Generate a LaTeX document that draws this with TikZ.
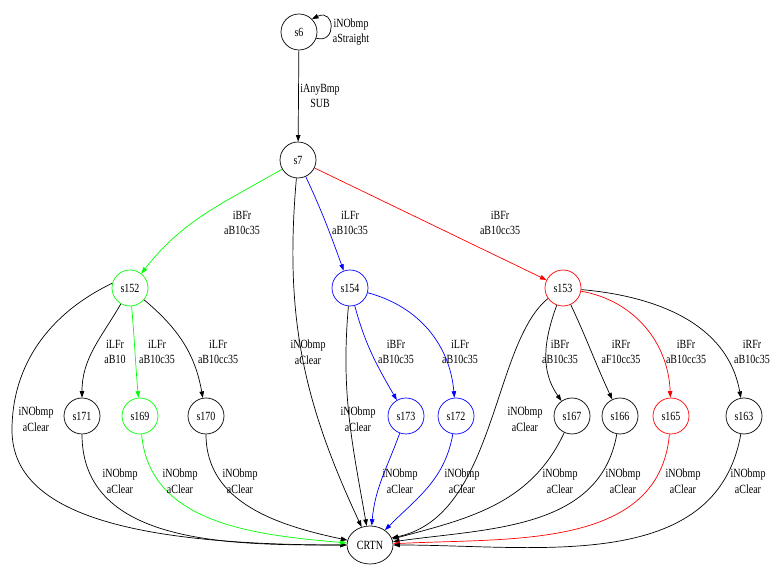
\documentclass[tikz,border=0pt]{standalone}
\usepackage{fontspec}
\newfontfamily\dotfont[FakeStretch=0.8]{Liberation Serif}
\usetikzlibrary{arrows.meta, shapes.geometric}
\definecolor{dotgreen}{RGB}{0,255,0}
\definecolor{dotblue}{RGB}{0,0,255}
\definecolor{dotred}{RGB}{255,0,0}

\begin{document}
\begin{tikzpicture}[x=1bp, y=1bp, line width=0.7bp,
    font=\dotfont\fontsize{12.5bp}{15.5bp}\selectfont,
    state/.style={circle, draw, inner sep=0pt, minimum size=36bp},
    lbl/.style={align=center, inner sep=0pt},
    tr/.style={-{Triangle[length=6.5bp,width=4.5bp]}}]
  \useasboundingbox (0,0) rectangle (777,576);

  % states
  \node[state] (s6) at (299,544) {s6};
  \node[state] (s7) at (298,416) {s7};
  \node[state, dotgreen] (s152) at (130,288) {\color{black}s152};
  \node[state, dotblue] (s154) at (350,288) {\color{black}s154};
  \node[state, dotred] (s153) at (563,288) {\color{black}s153};
  \node[state] (s171) at (82,160) {s171};
  \node[state, dotgreen] (s169) at (140,160) {\color{black}s169};
  \node[state] (s170) at (206,160) {s170};
  \node[state, dotblue] (s173) at (406,160) {\color{black}s173};
  \node[state, dotblue] (s172) at (456,160) {\color{black}s172};
  \node[state] (s167) at (572,160) {s167};
  \node[state] (s166) at (620,160) {s166};
  \node[state, dotred] (s165) at (671,160) {\color{black}s165};
  \node[state] (s163) at (744,160) {s163};
  \node[ellipse, draw, inner sep=0pt, minimum width=46bp, minimum height=38bp] (CRTN) at (370,31) {CRTN};

  % s6, s7
  \draw[tr] (s6.-20) .. controls (337,532) and (335,568) .. (s6.45);
  \node[lbl] (l6) at (351,544) {iNObmp\\aStraight};
  \draw[tr] (s6) -- (s7);
  \node[lbl] (l67) at (320,480) {iAnyBmp\\SUB};

  \draw[tr, dotgreen] (s7) to[out=-150, in=52] (s152);
  \node[lbl] at (242,353) {iBFr\\aB10c35};
  \draw[tr, dotblue] (s7) to[out=-65, in=110] (s154);
  \node[lbl] at (350,353) {iLFr\\aB10c35};
  \draw[tr, dotred] (s7) -- (s153);
  \node[lbl] at (500,353) {iBFr\\aB10cc35};
  \draw[tr] (s7) to[out=-95, in=115] (CRTN);
  \node[lbl] at (308,224) {iNObmp\\aClear};

  % s152
  \draw[tr] (s152) to[out=-120, in=90] (s171);
  \node[lbl] at (115,224) {iLFr\\aB10};
  \draw[tr, dotgreen] (s152) to[out=-85, in=95] (s169);
  \node[lbl] at (157,224) {iLFr\\aB10c35};
  \draw[tr] (s152) to[out=-40, in=100] (s170);
  \node[lbl] at (218,224) {iLFr\\aB10cc35};
  \draw[tr] (s152.165) .. controls (48,262) and (12,210) .. (12,146)
    .. controls (12,66) and (120,31) .. (CRTN.west);
  \node[lbl] at (36,157) {iNObmp\\aClear};

  % s154
  \draw[tr, dotblue] (s154) to[out=-75, in=120] (s173);
  \node[lbl] at (396,224) {iBFr\\aB10c35};
  \draw[tr, dotblue] (s154) to[out=-15, in=95] (s172);
  \node[lbl] at (460,224) {iLFr\\aB10c35};
  \draw[tr] (s154) to[out=-95, in=100] (CRTN);
  \node[lbl] at (358,157) {iNObmp\\aClear};

  % s153
  \draw[tr] (s153) to[out=-110, in=125] (s167);
  \node[lbl] at (560,224) {iBFr\\aB10c35};
  \draw[tr] (s153) to[out=-65, in=115] (s166);
  \node[lbl] at (621,224) {iRFr\\aF10cc35};
  \draw[tr, dotred] (s153) to[out=-10, in=92] (s165);
  \node[lbl] at (686,224) {iBFr\\aB10cc35};
  \draw[tr] (s153) to[out=-5, in=100] (s163);
  \node[lbl] at (752,224) {iRFr\\aB10c35};
  \draw[tr] (s153.-145) .. controls (492,232) and (496,60) .. (CRTN.18);
  \node[lbl] at (525,157) {iNObmp\\aClear};

  % to CRTN
  \draw[tr] (s171) to[out=-90, in=180] (CRTN);
  \node[lbl] at (120,95) {iNObmp\\aClear};
  \draw[tr, dotgreen] (s169) to[out=-85, in=175] (CRTN);
  \node[lbl] at (180,95) {iNObmp\\aClear};
  \draw[tr] (s170) to[out=-90, in=168] (CRTN);
  \node[lbl] at (240,95) {iNObmp\\aClear};
  \draw[tr, dotblue] (s173) to[out=-110, in=85] (CRTN);
  \node[lbl] at (400,95) {iNObmp\\aClear};
  \draw[tr, dotblue] (s172) to[out=-100, in=45] (CRTN);
  \node[lbl] at (462,95) {iNObmp\\aClear};
  \draw[tr] (s167) to[out=-115, in=15] (CRTN);
  \node[lbl] at (560,95) {iNObmp\\aClear};
  \draw[tr] (s166) to[out=-100, in=8] (CRTN);
  \node[lbl] at (623,95) {iNObmp\\aClear};
  \draw[tr, dotred] (s165) to[out=-95, in=3] (CRTN);
  \node[lbl] at (683,95) {iNObmp\\aClear};
  \draw[tr] (s163) to[out=-100, in=0] (CRTN);
  \node[lbl] at (748,95) {iNObmp\\aClear};
\end{tikzpicture}
\end{document}
